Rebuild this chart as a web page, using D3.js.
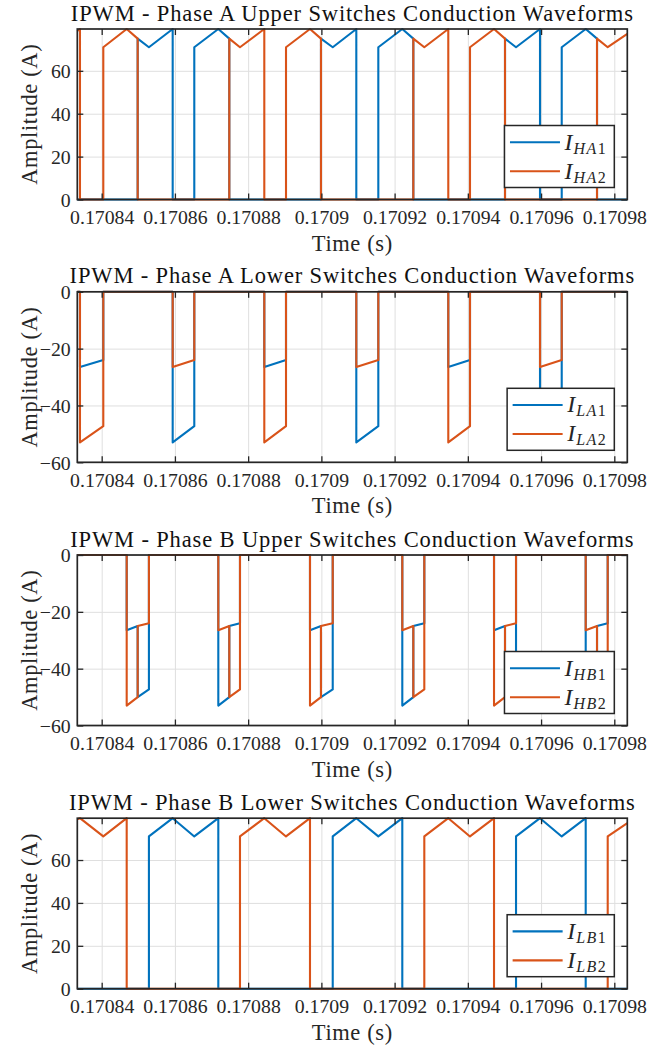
<!DOCTYPE html>
<html>
<head>
<meta charset="utf-8">
<script src="https://cdn.jsdelivr.net/npm/d3@7"></script>
<style>
  body { margin: 0; background: #fff; }
  text { font-family: "Liberation Serif", "Times New Roman", "DejaVu Serif", serif; fill: #262626; }
</style>
</head>
<body>
<script>
// shared time axis (seconds) and tick labels
var tStart = 0.17083334;
var tEnd = 0.17098355;
var xTicks = [0.17084, 0.17086, 0.17088, 0.17090, 0.17092, 0.17094, 0.17096, 0.17098];
var xTickLabels = ["0.17084", "0.17086", "0.17088", "0.1709", "0.17092", "0.17094", "0.17096", "0.17098"];
var yTicksUpper = [0, 20, 40, 60];
var yTicksLower = [-60, -40, -20, 0];

var titles = [
  "IPWM - Phase A Upper Switches Conduction Waveforms",
  "IPWM - Phase A Lower Switches Conduction Waveforms",
  "IPWM - Phase B Upper Switches Conduction Waveforms",
  "IPWM - Phase B Lower Switches Conduction Waveforms"
];
var legendSubs = [["HA1", "HA2"], ["LA1", "LA2"], ["HB1", "HB2"], ["LB1", "LB2"]];

// phase A upper switch currents [time, amps]
var iHA1 = [[0.17083334, 0], [0.17084983, 0], [0.17084983, 75], [0.17085290, 71], [0.17085939, 79.5], [0.17085939, 0],
  [0.17086529, 0], [0.17086529, 71], [0.17087185, 79.5], [0.17087485, 75], [0.17087485, 0],
  [0.17089989, 0], [0.17089989, 75], [0.17090310, 71], [0.17090954, 79.5], [0.17090954, 0],
  [0.17091555, 0], [0.17091555, 71], [0.17092210, 79.5], [0.17092511, 75], [0.17092511, 0],
  [0.17095015, 0], [0.17095015, 75], [0.17095316, 71], [0.17095971, 79.5], [0.17095971, 0],
  [0.17096564, 0], [0.17096564, 71], [0.17097219, 79.5], [0.17097528, 75], [0.17097528, 0], [0.17098355, 0]];
var iHA2 = [[0.17083334, 78.6], [0.17083407, 79.5], [0.17083407, 0], [0.17084044, 0], [0.17084044, 71], [0.17084683, 79.5],
  [0.17084983, 75], [0.17084983, 0], [0.17087485, 0], [0.17087485, 75], [0.17087777, 71], [0.17088441, 79.5], [0.17088441, 0],
  [0.17089034, 0], [0.17089034, 71], [0.17089689, 79.5], [0.17089989, 75], [0.17089989, 0],
  [0.17092511, 0], [0.17092511, 75], [0.17092811, 71], [0.17093466, 79.5], [0.17093466, 0],
  [0.17094059, 0], [0.17094059, 71], [0.17094715, 79.5], [0.17095015, 75], [0.17095015, 0],
  [0.17097528, 0], [0.17097528, 75], [0.17097820, 71], [0.17098355, 77.2]];

// phase A lower switch currents
var iLA1 = [[0.17083334, 0], [0.17083407, 0], [0.17083407, -26.5], [0.17084044, -24], [0.17084044, 0],
  [0.17085939, 0], [0.17085939, -53], [0.17086529, -47.3], [0.17086529, 0],
  [0.17088441, 0], [0.17088441, -26.5], [0.17089034, -24], [0.17089034, 0],
  [0.17090954, 0], [0.17090954, -53], [0.17091555, -47.3], [0.17091555, 0],
  [0.17093466, 0], [0.17093466, -26.5], [0.17094059, -24], [0.17094059, 0],
  [0.17095971, 0], [0.17095971, -53], [0.17096564, -47.3], [0.17096564, 0], [0.17098355, 0]];
var iLA2 = [[0.17083334, 0], [0.17083407, 0], [0.17083407, -53], [0.17084044, -47.3], [0.17084044, 0],
  [0.17085939, 0], [0.17085939, -26.5], [0.17086529, -24], [0.17086529, 0],
  [0.17088441, 0], [0.17088441, -53], [0.17089034, -47.3], [0.17089034, 0],
  [0.17090954, 0], [0.17090954, -26.5], [0.17091555, -24], [0.17091555, 0],
  [0.17093466, 0], [0.17093466, -53], [0.17094059, -47.3], [0.17094059, 0],
  [0.17095971, 0], [0.17095971, -26.5], [0.17096564, -24], [0.17096564, 0], [0.17098355, 0]];

// phase B upper switch currents
var iHB1 = [[0.17083334, 0], [0.17084683, 0], [0.17084683, -26.5], [0.17084983, -25], [0.17084983, -50], [0.17085290, -47.3], [0.17085290, 0],
  [0.17087185, 0], [0.17087185, -53], [0.17087485, -50], [0.17087485, -25], [0.17087777, -24], [0.17087777, 0],
  [0.17089689, 0], [0.17089689, -26.5], [0.17089989, -25], [0.17089989, -50], [0.17090310, -47.3], [0.17090310, 0],
  [0.17092210, 0], [0.17092210, -53], [0.17092511, -50], [0.17092511, -25], [0.17092811, -24], [0.17092811, 0],
  [0.17094715, 0], [0.17094715, -26.5], [0.17095015, -25], [0.17095015, -50], [0.17095316, -47.3], [0.17095316, 0],
  [0.17097219, 0], [0.17097219, -53], [0.17097528, -50], [0.17097528, -25], [0.17097820, -24], [0.17097820, 0], [0.17098355, 0]];
var iHB2 = [[0.17083334, 0], [0.17084683, 0], [0.17084683, -53], [0.17084983, -50], [0.17084983, -25], [0.17085290, -24], [0.17085290, 0],
  [0.17087185, 0], [0.17087185, -26.5], [0.17087485, -25], [0.17087485, -50], [0.17087777, -47.3], [0.17087777, 0],
  [0.17089689, 0], [0.17089689, -53], [0.17089989, -50], [0.17089989, -25], [0.17090310, -24], [0.17090310, 0],
  [0.17092210, 0], [0.17092210, -26.5], [0.17092511, -25], [0.17092511, -50], [0.17092811, -47.3], [0.17092811, 0],
  [0.17094715, 0], [0.17094715, -53], [0.17095015, -50], [0.17095015, -25], [0.17095316, -24], [0.17095316, 0],
  [0.17097219, 0], [0.17097219, -26.5], [0.17097528, -25], [0.17097528, -50], [0.17097820, -47.3], [0.17097820, 0], [0.17098355, 0]];

// phase B lower switch currents
var iLB1 = [[0.17083334, 0], [0.17085290, 0], [0.17085290, 71], [0.17085939, 79.5], [0.17086529, 71], [0.17087185, 79.5], [0.17087185, 0],
  [0.17090310, 0], [0.17090310, 71], [0.17090954, 79.5], [0.17091555, 71], [0.17092210, 79.5], [0.17092210, 0],
  [0.17095316, 0], [0.17095316, 71], [0.17095971, 79.5], [0.17096564, 71], [0.17097219, 79.5], [0.17097219, 0], [0.17098355, 0]];
var iLB2 = [[0.17083334, 79.0], [0.17083407, 79.5], [0.17084044, 71], [0.17084683, 79.5], [0.17084683, 0],
  [0.17087777, 0], [0.17087777, 71], [0.17088441, 79.5], [0.17089034, 71], [0.17089689, 79.5], [0.17089689, 0],
  [0.17092811, 0], [0.17092811, 71], [0.17093466, 79.5], [0.17094059, 71], [0.17094715, 79.5], [0.17094715, 0],
  [0.17097820, 0], [0.17097820, 71], [0.17098355, 77.2]];

var seriesA = [iHA1, iLA1, iHB1, iLB1];
var seriesB = [iHA2, iLA2, iHB2, iLB2];
var yDomains = [[0, 79.5], [-60, 0], [-60, 0], [0, 79.5]];
var yTickSets = [yTicksUpper, yTicksLower, yTicksLower, yTicksUpper];

// layout
var width = 670;
var height = 1049;
var plotLeft = 77.3;
var plotRight = 627.3;
var plotH = 170.5;
var panelTops = [29, 291.8, 555, 818.2];
var colors = ["#0072BD", "#D95319"];
var axisColor = "#262626";

var svg = d3.select("body")
  .append("svg")
  .attr("width", width)
  .attr("height", height);

// tick font sized so "0.17084" is as wide as in the picture;
// title and labels keep a fixed size and get letter spacing to reach their width
var probe = svg.append("text").style("font-size", "20px").text("0.17084");
var tickSize = 20 * 64.3 / probe.node().getComputedTextLength();
var textSize = 22.5;
probe.style("font-size", textSize + "px").text(titles[0]);
var titleSpacing = Math.max(0, (563 - probe.node().getComputedTextLength()) / titles[0].length);
probe.text("Amplitude (A)");
var labelSpacing = Math.max(0, (141 - probe.node().getComputedTextLength()) / 13);
probe.remove();

var x = d3.scaleLinear().domain([tStart, tEnd]).range([plotLeft, plotRight]);

for (var p = 0; p < 4; p++) {
  drawPanel(p, panelTops[p]);
}

function drawPanel(p, top) {
  var g = svg.append("g").attr("transform", "translate(0," + top + ")");
  var y = d3.scaleLinear().domain(yDomains[p]).range([plotH, 0]);
  var yTicks = yTickSets[p];

  // grid lines
  var gx = g.append("g")
    .attr("transform", "translate(0," + plotH + ")")
    .call(d3.axisBottom(x).tickValues(xTicks).tickSize(-plotH).tickFormat(""));
  var gy = g.append("g")
    .attr("transform", "translate(" + plotLeft + ",0)")
    .call(d3.axisLeft(y).tickValues(yTicks).tickSize(-(plotRight - plotLeft)).tickFormat(""));
  [gx, gy].forEach(function(a) {
    a.select(".domain").remove();
    a.selectAll("line").attr("stroke", "#dfdfdf").attr("stroke-width", 1);
  });

  // the two waveforms, first series under the second
  var line = d3.line()
    .x(function(d) { return x(d[0]); })
    .y(function(d) { return y(d[1]); });
  [seriesA[p], seriesB[p]].forEach(function(s, k) {
    g.append("path")
      .datum(s)
      .attr("d", line)
      .attr("fill", "none")
      .attr("stroke", colors[k])
      .attr("stroke-width", 2.1)
      .attr("stroke-linejoin", "round");
  });

  // ticks on all four sides, pointing inward
  var bottom = g.append("g")
    .attr("transform", "translate(0," + plotH + ")")
    .call(d3.axisBottom(x).tickValues(xTicks).tickSizeInner(-6).tickSizeOuter(0)
      .tickFormat(function(d, i) { return xTickLabels[i]; }));
  bottom.selectAll("text").attr("y", 24.4).attr("dy", null);
  var topAx = g.append("g")
    .call(d3.axisTop(x).tickValues(xTicks).tickSizeInner(-6).tickSizeOuter(0).tickFormat(""));
  var left = g.append("g")
    .attr("transform", "translate(" + plotLeft + ",0)")
    .call(d3.axisLeft(y).tickValues(yTicks).tickSizeInner(-6).tickSizeOuter(0));
  left.selectAll("text").attr("x", -6.6).attr("dy", "0.34em");
  var right = g.append("g")
    .attr("transform", "translate(" + plotRight + ",0)")
    .call(d3.axisRight(y).tickValues(yTicks).tickSizeInner(-6).tickSizeOuter(0).tickFormat(""));
  [bottom, topAx, left, right].forEach(function(a) {
    a.attr("font-family", null).attr("font-size", null);
    a.select(".domain").remove();
    a.selectAll("line").attr("stroke", axisColor).attr("stroke-width", 1.3);
    a.selectAll("text").style("fill", axisColor).style("font-size", tickSize + "px");
  });

  // axes box
  g.append("rect")
    .attr("x", plotLeft)
    .attr("y", 0)
    .attr("width", plotRight - plotLeft)
    .attr("height", plotH)
    .attr("fill", "none")
    .attr("stroke", axisColor)
    .attr("stroke-width", 1.7);

  // title and labels
  g.append("text")
    .attr("x", (plotLeft + plotRight) / 2)
    .attr("y", -8.5)
    .attr("text-anchor", "middle")
    .style("font-size", textSize + "px")
    .style("letter-spacing", titleSpacing + "px")
    .style("fill", "#111")
    .text(titles[p]);

  g.append("text")
    .attr("x", (plotLeft + plotRight) / 2)
    .attr("y", plotH + 51)
    .attr("text-anchor", "middle")
    .style("font-size", textSize + "px")
    .style("letter-spacing", labelSpacing + "px")
    .text("Time (s)");

  g.append("text")
    .attr("transform", "translate(37," + (plotH / 2) + ") rotate(-90)")
    .attr("text-anchor", "middle")
    .style("font-size", textSize + "px")
    .style("letter-spacing", labelSpacing + "px")
    .text("Amplitude (A)");

  drawLegend(g, p);
}

function drawLegend(g, p) {
  var boxRight = plotRight - 13;
  var boxBottom = plotH - 12;
  var boxH = 62;
  var boxTop = boxBottom - boxH;
  var leg = g.append("g");
  var bg = leg.append("rect");
  var labels = leg.append("g");
  var rowsY = [16.7, 45.7];

  legendSubs[p].forEach(function(sub, k) {
    var t = labels.append("text")
      .attr("x", 60)
      .attr("y", rowsY[k] + 7.5);
    t.append("tspan")
      .style("font-style", "italic")
      .style("font-size", "24px")
      .text("I");
    t.append("tspan")
      .attr("dy", 4)
      .attr("dx", 1)
      .style("font-style", "italic")
      .style("font-size", "16px")
      .style("letter-spacing", "1.5px")
      .text(sub.slice(0, 2));
    t.append("tspan")
      .style("font-size", "16px")
      .text(sub.slice(2));
  });

  var textW = labels.node().getBBox().width;
  var boxW = 60 + textW + 7.5;
  var boxLeft = boxRight - boxW;
  leg.attr("transform", "translate(" + boxLeft + "," + boxTop + ")");

  bg.attr("width", boxW)
    .attr("height", boxH)
    .attr("fill", "#fff")
    .attr("stroke", axisColor)
    .attr("stroke-width", 1.5);

  rowsY.forEach(function(ry, k) {
    leg.append("line")
      .attr("x1", 5.5)
      .attr("x2", 55.5)
      .attr("y1", ry)
      .attr("y2", ry)
      .attr("stroke", colors[k])
      .attr("stroke-width", 2.1);
  });
}
</script>
</body>
</html>
